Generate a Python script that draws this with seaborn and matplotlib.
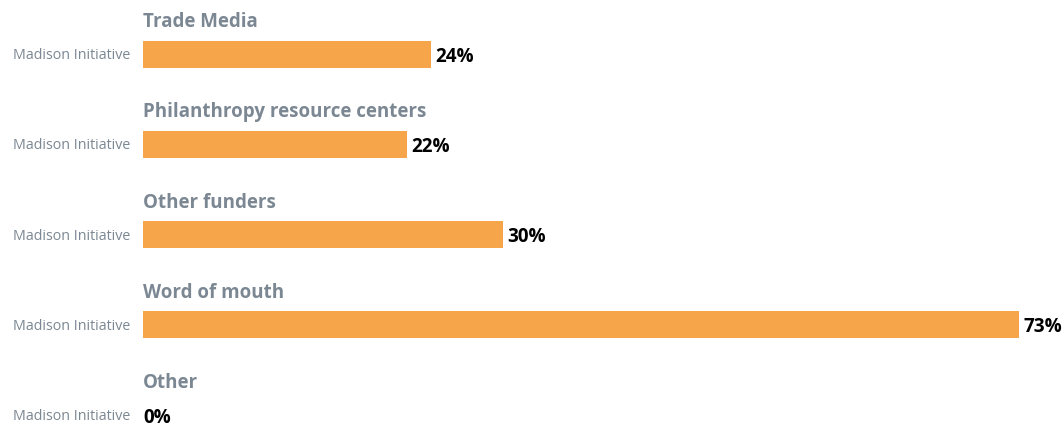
import matplotlib
matplotlib.use("Agg")
import matplotlib.pyplot as plt
import seaborn as sns
import pandas as pd

sns.set_theme(style="white")
plt.rcParams["font.family"] = ["Open Sans", "DejaVu Sans"]

categories = ["Trade Media", "Philanthropy resource centers", "Other funders",
              "Word of mouth", "Other"]
series_name = "Madison Initiative"
values = [24, 22, 30, 73, 0]

df = pd.DataFrame({"category": categories, "value": values})

W, H = 1063, 425
fig = plt.figure(figsize=(W / 100, H / 100), dpi=100)
left_px = 143
ax = fig.add_axes([left_px / W, 0, 1 - left_px / W, 1])

px_per_pct = 12.0
row_gap = 90.25
first_center = 54.0

sns.barplot(data=df, y="category", x="value", orient="h", color="#F7A54A",
            saturation=1, width=27 / row_gap, linewidth=0, ax=ax)

ax.set_xlim(0, (W - left_px) / px_per_pct)
ax.set_ylim((H - first_center) / row_gap, -first_center / row_gap)
ax.set_axis_off()

gray = "#7B8792"
for i, (cat, v) in enumerate(zip(categories, values)):
    ax.text(0, i - 32 / row_gap, cat, ha="left", va="center", fontsize=13.5,
            fontweight="bold", color=gray)
    gap = 4 / px_per_pct if v > 0 else 0
    ax.text(v + gap, i + 2.5 / row_gap, f"{v}%", ha="left", va="center",
            fontsize=13.6, fontweight="bold", color="black")
    ax.annotate(series_name, xy=(0, i), xycoords="data", xytext=(-13, -1.5),
                textcoords="offset pixels", ha="right", va="center",
                fontsize=10.3, color=gray, annotation_clip=False)

fig.savefig("out.png", dpi=100)
